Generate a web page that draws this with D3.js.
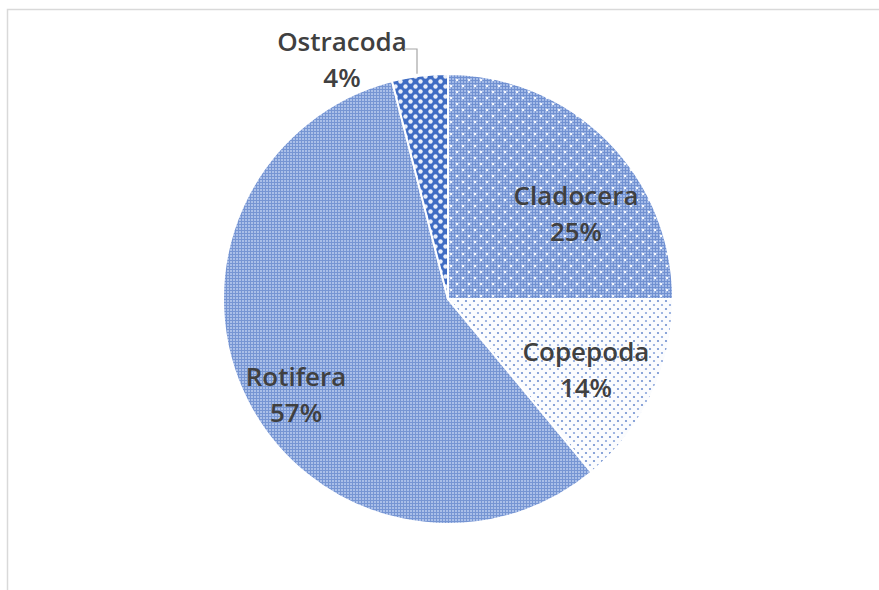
<!DOCTYPE html>
<html>
<head>
<meta charset="utf-8">
<script src="https://cdn.jsdelivr.net/npm/d3@7"></script>
<style>
  html, body { margin: 0; padding: 0; background: #fff; }
  svg { display: block; }
</style>
</head>
<body>
<svg id="chart" width="879" height="590"></svg>
<script>
// Zooplankton composition (% of total)
const groups = ["Cladocera", "Copepoda", "Rotifera", "Ostracoda"];
const shares = [25, 14, 57, 4];
const patternIds = ["pat-clad", "pat-cope", "pat-roti", "pat-ostr"];

const width = 879, height = 590;
const cx = 448, cy = 299, radius = 225;

const svg = d3.select("#chart");

// chart frame
svg.append("rect")
  .attr("x", 7.5).attr("y", 9.5)
  .attr("width", 890).attr("height", 600)
  .attr("fill", "#fff")
  .attr("stroke", "#d9d9d9").attr("stroke-width", 1.5);

const defs = svg.append("defs");

// Rotifera: fine blue/light checker grid
const pr = defs.append("pattern").attr("id", "pat-roti")
  .attr("patternUnits", "userSpaceOnUse").attr("width", 3).attr("height", 3);
pr.append("rect").attr("width", 3).attr("height", 3).attr("fill", "#7695d3");
pr.append("rect").attr("x", 1).attr("y", 1).attr("width", 2).attr("height", 2).attr("fill", "#aabfe8");

// Cladocera: fine grid with sparse white dots
const prd = defs.append("pattern").attr("id", "pat-grid-dense")
  .attr("patternUnits", "userSpaceOnUse").attr("width", 3).attr("height", 3);
prd.append("rect").attr("width", 3).attr("height", 3).attr("fill", "#7090d1");
prd.append("rect").attr("x", 1).attr("y", 1).attr("width", 2).attr("height", 2).attr("fill", "#a3bae7");
const pc = defs.append("pattern").attr("id", "pat-clad")
  .attr("patternUnits", "userSpaceOnUse").attr("width", 12).attr("height", 12);
pc.append("rect").attr("width", 12).attr("height", 12).attr("fill", "url(#pat-grid-dense)");
pc.append("circle").attr("cx", 3).attr("cy", 3).attr("r", 1.3).attr("fill", "#f4f7fd");
pc.append("circle").attr("cx", 9).attr("cy", 9).attr("r", 1.3).attr("fill", "#f4f7fd");

// Copepoda: white with scattered blue dots
const pp = defs.append("pattern").attr("id", "pat-cope")
  .attr("patternUnits", "userSpaceOnUse").attr("width", 8).attr("height", 8);
pp.append("rect").attr("width", 8).attr("height", 8).attr("fill", "#fbfcfe");
pp.append("circle").attr("cx", 2).attr("cy", 2).attr("r", 1.1).attr("fill", "#6f8fcf");
pp.append("circle").attr("cx", 6).attr("cy", 6).attr("r", 1.1).attr("fill", "#8aa5dc");

// Ostracoda: dark blue with white round checks
const po = defs.append("pattern").attr("id", "pat-ostr")
  .attr("patternUnits", "userSpaceOnUse").attr("width", 10).attr("height", 10);
po.append("rect").attr("width", 10).attr("height", 10).attr("fill", "#3f6cc3");
po.append("circle").attr("cx", 2.5).attr("cy", 2.5).attr("r", 2.2).attr("fill", "#e9eef9");
po.append("circle").attr("cx", 7.5).attr("cy", 7.5).attr("r", 2.2).attr("fill", "#e9eef9");

const data = groups.map((g, i) => ({ group: g, value: shares[i], pat: patternIds[i] }));

const pie = d3.pie().sort(null).value(d => d.value);
const arc = d3.arc().innerRadius(0).outerRadius(radius);
const arcs = pie(data);

const g = svg.append("g").attr("transform", `translate(${cx},${cy})`);

g.selectAll("path.slice")
  .data(arcs)
  .join("path")
  .attr("class", "slice")
  .attr("d", arc)
  .attr("fill", d => `url(#${d.data.pat})`)
  .attr("stroke", "#fff")
  .attr("stroke-width", 2)
  .attr("stroke-linejoin", "round");

// label anchor points (name baseline), relative to the pie centre
const labelPos = {
  Cladocera: [128, -94],
  Copepoda: [138, 62],
  Rotifera: [-152, 87],
  Ostracoda: [-106, -248]
};

const fontFamily = "'Open Sans', Lato, 'DejaVu Sans', sans-serif";
const labelStyle = sel => sel
  .attr("text-anchor", "middle")
  .attr("font-family", fontFamily)
  .attr("font-weight", 600)
  .attr("font-size", 26)
  .attr("fill", "#404040");

arcs.forEach(a => {
  const [x, y] = labelPos[a.data.group];
  g.append("text").call(labelStyle)
    .attr("x", x).attr("y", y).text(a.data.group);
  g.append("text").call(labelStyle)
    .attr("x", x).attr("y", y + 36).text(Math.round(a.data.value) + "%");
});

// leader line for the small slice
const ostr = arcs[3];
const mid = (ostr.startAngle + ostr.endAngle) / 2;
const edgeY = -Math.cos(mid) * radius;
g.append("path")
  .attr("d", d3.line()([[-44, -250], [-31, -250], [-31, edgeY - 2]]))
  .attr("fill", "none")
  .attr("stroke", "#a6a6a6")
  .attr("stroke-width", 1.2);
</script>
</body>
</html>
